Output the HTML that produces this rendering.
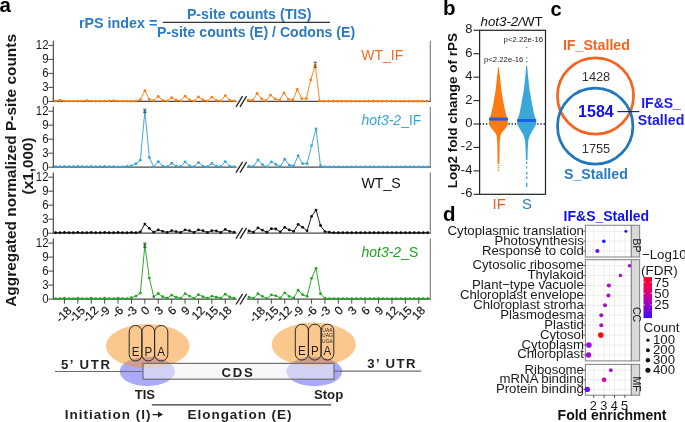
<!DOCTYPE html>
<html><head><meta charset="utf-8"><style>
html,body{margin:0;padding:0;background:#fff;}
body{width:685px;height:422px;overflow:hidden;}
svg{display:block;will-change:transform;font-family:"Liberation Sans", sans-serif;}
</style></head><body>
<svg width="685" height="422" viewBox="0 0 685 422">
<line x1="53.3" y1="40.80" x2="53.3" y2="101.40" stroke="#3c3c3c" stroke-width="1.1"/>
<line x1="430.3" y1="40.80" x2="430.3" y2="101.40" stroke="#7a7a7a" stroke-width="1.1"/>
<line x1="48.3" y1="101.40" x2="53.3" y2="101.40" stroke="#4a4a4a" stroke-width="1"/>
<text x="0" y="0" text-anchor="end" font-size="12" fill="#1a1a1a" transform="translate(48.5 104.80) scale(0.95 1)">0</text>
<line x1="48.3" y1="87.40" x2="53.3" y2="87.40" stroke="#4a4a4a" stroke-width="1"/>
<text x="0" y="0" text-anchor="end" font-size="12" fill="#1a1a1a" transform="translate(48.5 90.80) scale(0.95 1)">3</text>
<line x1="48.3" y1="73.40" x2="53.3" y2="73.40" stroke="#4a4a4a" stroke-width="1"/>
<text x="0" y="0" text-anchor="end" font-size="12" fill="#1a1a1a" transform="translate(48.5 76.80) scale(0.95 1)">6</text>
<line x1="48.3" y1="59.40" x2="53.3" y2="59.40" stroke="#4a4a4a" stroke-width="1"/>
<text x="0" y="0" text-anchor="end" font-size="12" fill="#1a1a1a" transform="translate(48.5 62.80) scale(0.95 1)">9</text>
<line x1="48.3" y1="45.40" x2="53.3" y2="45.40" stroke="#4a4a4a" stroke-width="1"/>
<text x="0" y="0" text-anchor="end" font-size="12" fill="#1a1a1a" transform="translate(48.5 48.80) scale(0.95 1)">12</text>
<line x1="52.8" y1="101.40" x2="236.7" y2="101.40" stroke="#4a4a4a" stroke-width="1.25"/>
<line x1="247" y1="101.40" x2="430.8" y2="101.40" stroke="#4a4a4a" stroke-width="1.25"/>
<line x1="236.00" y1="106.80" x2="242.60" y2="96.10" stroke="#2b2222" stroke-width="1.35"/>
<line x1="240.00" y1="106.80" x2="246.60" y2="96.10" stroke="#2b2222" stroke-width="1.35"/>
<polyline points="55.51,101.12 59.98,100.23 64.44,101.12 68.91,101.03 73.38,101.12 77.84,101.12 82.31,101.03 86.78,100.70 91.25,101.12 95.71,101.03 100.18,101.12 104.65,101.12 109.11,100.93 113.58,100.70 118.05,101.12 122.52,101.03 126.98,101.12 131.45,101.12 135.92,101.03 140.38,99.77 144.85,90.67 149.32,99.30 153.78,100.70 158.25,96.50 162.72,100.47 167.19,100.93 171.65,97.67 176.12,100.23 180.59,100.93 185.05,96.27 189.52,100.00 193.99,100.93 198.45,96.97 202.92,100.00 207.39,100.93 211.85,97.20 216.32,100.47 220.79,100.93 225.26,95.57 229.72,100.47 234.19,100.93" fill="none" stroke="#ff7f0e" stroke-width="0.95"/>
<circle cx="55.51" cy="101.12" r="1.4" fill="#ff7f0e"/>
<circle cx="59.98" cy="100.23" r="1.4" fill="#ff7f0e"/>
<circle cx="64.44" cy="101.12" r="1.4" fill="#ff7f0e"/>
<circle cx="68.91" cy="101.03" r="1.4" fill="#ff7f0e"/>
<circle cx="73.38" cy="101.12" r="1.4" fill="#ff7f0e"/>
<circle cx="77.84" cy="101.12" r="1.4" fill="#ff7f0e"/>
<circle cx="82.31" cy="101.03" r="1.4" fill="#ff7f0e"/>
<circle cx="86.78" cy="100.70" r="1.4" fill="#ff7f0e"/>
<circle cx="91.25" cy="101.12" r="1.4" fill="#ff7f0e"/>
<circle cx="95.71" cy="101.03" r="1.4" fill="#ff7f0e"/>
<circle cx="100.18" cy="101.12" r="1.4" fill="#ff7f0e"/>
<circle cx="104.65" cy="101.12" r="1.4" fill="#ff7f0e"/>
<circle cx="109.11" cy="100.93" r="1.4" fill="#ff7f0e"/>
<circle cx="113.58" cy="100.70" r="1.4" fill="#ff7f0e"/>
<circle cx="118.05" cy="101.12" r="1.4" fill="#ff7f0e"/>
<circle cx="122.52" cy="101.03" r="1.4" fill="#ff7f0e"/>
<circle cx="126.98" cy="101.12" r="1.4" fill="#ff7f0e"/>
<circle cx="131.45" cy="101.12" r="1.4" fill="#ff7f0e"/>
<circle cx="135.92" cy="101.03" r="1.4" fill="#ff7f0e"/>
<circle cx="140.38" cy="99.77" r="1.4" fill="#ff7f0e"/>
<circle cx="144.85" cy="90.67" r="1.4" fill="#ff7f0e"/>
<circle cx="149.32" cy="99.30" r="1.4" fill="#ff7f0e"/>
<circle cx="153.78" cy="100.70" r="1.4" fill="#ff7f0e"/>
<circle cx="158.25" cy="96.50" r="1.4" fill="#ff7f0e"/>
<circle cx="162.72" cy="100.47" r="1.4" fill="#ff7f0e"/>
<circle cx="167.19" cy="100.93" r="1.4" fill="#ff7f0e"/>
<circle cx="171.65" cy="97.67" r="1.4" fill="#ff7f0e"/>
<circle cx="176.12" cy="100.23" r="1.4" fill="#ff7f0e"/>
<circle cx="180.59" cy="100.93" r="1.4" fill="#ff7f0e"/>
<circle cx="185.05" cy="96.27" r="1.4" fill="#ff7f0e"/>
<circle cx="189.52" cy="100.00" r="1.4" fill="#ff7f0e"/>
<circle cx="193.99" cy="100.93" r="1.4" fill="#ff7f0e"/>
<circle cx="198.45" cy="96.97" r="1.4" fill="#ff7f0e"/>
<circle cx="202.92" cy="100.00" r="1.4" fill="#ff7f0e"/>
<circle cx="207.39" cy="100.93" r="1.4" fill="#ff7f0e"/>
<circle cx="211.85" cy="97.20" r="1.4" fill="#ff7f0e"/>
<circle cx="216.32" cy="100.47" r="1.4" fill="#ff7f0e"/>
<circle cx="220.79" cy="100.93" r="1.4" fill="#ff7f0e"/>
<circle cx="225.26" cy="95.57" r="1.4" fill="#ff7f0e"/>
<circle cx="229.72" cy="100.47" r="1.4" fill="#ff7f0e"/>
<circle cx="234.19" cy="100.93" r="1.4" fill="#ff7f0e"/>
<polyline points="248.21,100.23 252.68,100.23 257.14,93.47 261.61,98.83 266.08,100.70 270.55,95.10 275.01,98.83 279.48,100.23 283.95,93.00 288.41,99.30 292.88,100.00 297.35,89.50 301.81,98.60 306.28,98.60 310.75,79.93 315.22,65.23 319.68,100.93 324.15,101.17 328.62,101.17 333.08,101.17 337.55,101.17 342.02,101.17 346.48,101.17 350.95,101.17 355.42,101.17 359.88,101.17 364.35,101.17 368.82,101.17 373.29,101.17 377.75,101.17 382.22,101.17 386.69,101.17 391.15,101.17 395.62,101.17 400.09,101.17 404.56,101.17 409.02,101.17 413.49,101.17 417.96,101.17 422.42,101.17 426.89,101.17" fill="none" stroke="#ff7f0e" stroke-width="0.95"/>
<circle cx="248.21" cy="100.23" r="1.4" fill="#ff7f0e"/>
<circle cx="252.68" cy="100.23" r="1.4" fill="#ff7f0e"/>
<circle cx="257.14" cy="93.47" r="1.4" fill="#ff7f0e"/>
<circle cx="261.61" cy="98.83" r="1.4" fill="#ff7f0e"/>
<circle cx="266.08" cy="100.70" r="1.4" fill="#ff7f0e"/>
<circle cx="270.55" cy="95.10" r="1.4" fill="#ff7f0e"/>
<circle cx="275.01" cy="98.83" r="1.4" fill="#ff7f0e"/>
<circle cx="279.48" cy="100.23" r="1.4" fill="#ff7f0e"/>
<circle cx="283.95" cy="93.00" r="1.4" fill="#ff7f0e"/>
<circle cx="288.41" cy="99.30" r="1.4" fill="#ff7f0e"/>
<circle cx="292.88" cy="100.00" r="1.4" fill="#ff7f0e"/>
<circle cx="297.35" cy="89.50" r="1.4" fill="#ff7f0e"/>
<circle cx="301.81" cy="98.60" r="1.4" fill="#ff7f0e"/>
<circle cx="306.28" cy="98.60" r="1.4" fill="#ff7f0e"/>
<circle cx="310.75" cy="79.93" r="1.4" fill="#ff7f0e"/>
<circle cx="315.22" cy="65.23" r="1.4" fill="#ff7f0e"/>
<circle cx="319.68" cy="100.93" r="1.4" fill="#ff7f0e"/>
<circle cx="324.15" cy="101.17" r="1.4" fill="#ff7f0e"/>
<circle cx="328.62" cy="101.17" r="1.4" fill="#ff7f0e"/>
<circle cx="333.08" cy="101.17" r="1.4" fill="#ff7f0e"/>
<circle cx="337.55" cy="101.17" r="1.4" fill="#ff7f0e"/>
<circle cx="342.02" cy="101.17" r="1.4" fill="#ff7f0e"/>
<circle cx="346.48" cy="101.17" r="1.4" fill="#ff7f0e"/>
<circle cx="350.95" cy="101.17" r="1.4" fill="#ff7f0e"/>
<circle cx="355.42" cy="101.17" r="1.4" fill="#ff7f0e"/>
<circle cx="359.88" cy="101.17" r="1.4" fill="#ff7f0e"/>
<circle cx="364.35" cy="101.17" r="1.4" fill="#ff7f0e"/>
<circle cx="368.82" cy="101.17" r="1.4" fill="#ff7f0e"/>
<circle cx="373.29" cy="101.17" r="1.4" fill="#ff7f0e"/>
<circle cx="377.75" cy="101.17" r="1.4" fill="#ff7f0e"/>
<circle cx="382.22" cy="101.17" r="1.4" fill="#ff7f0e"/>
<circle cx="386.69" cy="101.17" r="1.4" fill="#ff7f0e"/>
<circle cx="391.15" cy="101.17" r="1.4" fill="#ff7f0e"/>
<circle cx="395.62" cy="101.17" r="1.4" fill="#ff7f0e"/>
<circle cx="400.09" cy="101.17" r="1.4" fill="#ff7f0e"/>
<circle cx="404.56" cy="101.17" r="1.4" fill="#ff7f0e"/>
<circle cx="409.02" cy="101.17" r="1.4" fill="#ff7f0e"/>
<circle cx="413.49" cy="101.17" r="1.4" fill="#ff7f0e"/>
<circle cx="417.96" cy="101.17" r="1.4" fill="#ff7f0e"/>
<circle cx="422.42" cy="101.17" r="1.4" fill="#ff7f0e"/>
<circle cx="426.89" cy="101.17" r="1.4" fill="#ff7f0e"/>
<line x1="315.22" y1="62.20" x2="315.22" y2="67.33" stroke="#444" stroke-width="0.9"/>
<line x1="313.52" y1="67.33" x2="316.92" y2="67.33" stroke="#444" stroke-width="0.9"/>
<line x1="313.52" y1="62.20" x2="316.92" y2="62.20" stroke="#444" stroke-width="0.9"/>
<line x1="53.3" y1="106.60" x2="53.3" y2="167.20" stroke="#3c3c3c" stroke-width="1.1"/>
<line x1="430.3" y1="106.60" x2="430.3" y2="167.20" stroke="#7a7a7a" stroke-width="1.1"/>
<line x1="48.3" y1="167.20" x2="53.3" y2="167.20" stroke="#4a4a4a" stroke-width="1"/>
<text x="0" y="0" text-anchor="end" font-size="12" fill="#1a1a1a" transform="translate(48.5 170.60) scale(0.95 1)">0</text>
<line x1="48.3" y1="153.20" x2="53.3" y2="153.20" stroke="#4a4a4a" stroke-width="1"/>
<text x="0" y="0" text-anchor="end" font-size="12" fill="#1a1a1a" transform="translate(48.5 156.60) scale(0.95 1)">3</text>
<line x1="48.3" y1="139.20" x2="53.3" y2="139.20" stroke="#4a4a4a" stroke-width="1"/>
<text x="0" y="0" text-anchor="end" font-size="12" fill="#1a1a1a" transform="translate(48.5 142.60) scale(0.95 1)">6</text>
<line x1="48.3" y1="125.20" x2="53.3" y2="125.20" stroke="#4a4a4a" stroke-width="1"/>
<text x="0" y="0" text-anchor="end" font-size="12" fill="#1a1a1a" transform="translate(48.5 128.60) scale(0.95 1)">9</text>
<line x1="48.3" y1="111.20" x2="53.3" y2="111.20" stroke="#4a4a4a" stroke-width="1"/>
<text x="0" y="0" text-anchor="end" font-size="12" fill="#1a1a1a" transform="translate(48.5 114.60) scale(0.95 1)">12</text>
<line x1="52.8" y1="167.20" x2="236.7" y2="167.20" stroke="#4a4a4a" stroke-width="1.25"/>
<line x1="247" y1="167.20" x2="430.8" y2="167.20" stroke="#4a4a4a" stroke-width="1.25"/>
<line x1="236.00" y1="172.60" x2="242.60" y2="161.90" stroke="#2b2222" stroke-width="1.35"/>
<line x1="240.00" y1="172.60" x2="246.60" y2="161.90" stroke="#2b2222" stroke-width="1.35"/>
<polyline points="55.51,166.73 59.98,166.73 64.44,166.50 68.91,166.73 73.38,166.73 77.84,166.50 82.31,166.73 86.78,166.73 91.25,166.50 95.71,166.73 100.18,166.73 104.65,166.50 109.11,166.73 113.58,166.73 118.05,166.97 122.52,166.97 126.98,166.50 131.45,165.80 135.92,163.70 140.38,160.20 144.85,111.20 149.32,157.40 153.78,166.73 158.25,161.60 162.72,166.03 167.19,166.73 171.65,163.23 176.12,166.03 180.59,166.50 185.05,161.83 189.52,165.80 193.99,166.73 198.45,162.53 202.92,166.03 207.39,166.73 211.85,163.47 216.32,166.03 220.79,166.50 225.26,161.60 229.72,166.03 234.19,166.73" fill="none" stroke="#3aa3d8" stroke-width="0.95"/>
<circle cx="55.51" cy="166.73" r="1.4" fill="#3aa3d8"/>
<circle cx="59.98" cy="166.73" r="1.4" fill="#3aa3d8"/>
<circle cx="64.44" cy="166.50" r="1.4" fill="#3aa3d8"/>
<circle cx="68.91" cy="166.73" r="1.4" fill="#3aa3d8"/>
<circle cx="73.38" cy="166.73" r="1.4" fill="#3aa3d8"/>
<circle cx="77.84" cy="166.50" r="1.4" fill="#3aa3d8"/>
<circle cx="82.31" cy="166.73" r="1.4" fill="#3aa3d8"/>
<circle cx="86.78" cy="166.73" r="1.4" fill="#3aa3d8"/>
<circle cx="91.25" cy="166.50" r="1.4" fill="#3aa3d8"/>
<circle cx="95.71" cy="166.73" r="1.4" fill="#3aa3d8"/>
<circle cx="100.18" cy="166.73" r="1.4" fill="#3aa3d8"/>
<circle cx="104.65" cy="166.50" r="1.4" fill="#3aa3d8"/>
<circle cx="109.11" cy="166.73" r="1.4" fill="#3aa3d8"/>
<circle cx="113.58" cy="166.73" r="1.4" fill="#3aa3d8"/>
<circle cx="118.05" cy="166.97" r="1.4" fill="#3aa3d8"/>
<circle cx="122.52" cy="166.97" r="1.4" fill="#3aa3d8"/>
<circle cx="126.98" cy="166.50" r="1.4" fill="#3aa3d8"/>
<circle cx="131.45" cy="165.80" r="1.4" fill="#3aa3d8"/>
<circle cx="135.92" cy="163.70" r="1.4" fill="#3aa3d8"/>
<circle cx="140.38" cy="160.20" r="1.4" fill="#3aa3d8"/>
<circle cx="144.85" cy="111.20" r="1.4" fill="#3aa3d8"/>
<circle cx="149.32" cy="157.40" r="1.4" fill="#3aa3d8"/>
<circle cx="153.78" cy="166.73" r="1.4" fill="#3aa3d8"/>
<circle cx="158.25" cy="161.60" r="1.4" fill="#3aa3d8"/>
<circle cx="162.72" cy="166.03" r="1.4" fill="#3aa3d8"/>
<circle cx="167.19" cy="166.73" r="1.4" fill="#3aa3d8"/>
<circle cx="171.65" cy="163.23" r="1.4" fill="#3aa3d8"/>
<circle cx="176.12" cy="166.03" r="1.4" fill="#3aa3d8"/>
<circle cx="180.59" cy="166.50" r="1.4" fill="#3aa3d8"/>
<circle cx="185.05" cy="161.83" r="1.4" fill="#3aa3d8"/>
<circle cx="189.52" cy="165.80" r="1.4" fill="#3aa3d8"/>
<circle cx="193.99" cy="166.73" r="1.4" fill="#3aa3d8"/>
<circle cx="198.45" cy="162.53" r="1.4" fill="#3aa3d8"/>
<circle cx="202.92" cy="166.03" r="1.4" fill="#3aa3d8"/>
<circle cx="207.39" cy="166.73" r="1.4" fill="#3aa3d8"/>
<circle cx="211.85" cy="163.47" r="1.4" fill="#3aa3d8"/>
<circle cx="216.32" cy="166.03" r="1.4" fill="#3aa3d8"/>
<circle cx="220.79" cy="166.50" r="1.4" fill="#3aa3d8"/>
<circle cx="225.26" cy="161.60" r="1.4" fill="#3aa3d8"/>
<circle cx="229.72" cy="166.03" r="1.4" fill="#3aa3d8"/>
<circle cx="234.19" cy="166.73" r="1.4" fill="#3aa3d8"/>
<polyline points="249.01,166.27 253.48,166.50 257.94,159.97 262.41,164.63 266.88,166.97 271.35,161.83 275.81,164.40 280.28,166.50 284.75,159.27 289.21,165.10 293.68,165.80 298.15,155.77 302.61,163.70 307.08,163.70 311.55,145.73 316.02,128.93 320.48,165.57 324.95,166.97 329.42,166.97 333.88,166.97 338.35,166.97 342.82,166.97 347.28,166.97 351.75,166.97 356.22,166.97 360.69,166.97 365.15,166.97 369.62,166.97 374.09,166.97 378.55,166.97 383.02,166.97 387.49,166.97 391.95,166.97 396.42,166.97 400.89,166.97 405.36,166.97 409.82,166.97 414.29,166.97 418.76,166.97 423.22,166.97 427.69,166.97" fill="none" stroke="#3aa3d8" stroke-width="0.95"/>
<circle cx="249.01" cy="166.27" r="1.4" fill="#3aa3d8"/>
<circle cx="253.48" cy="166.50" r="1.4" fill="#3aa3d8"/>
<circle cx="257.94" cy="159.97" r="1.4" fill="#3aa3d8"/>
<circle cx="262.41" cy="164.63" r="1.4" fill="#3aa3d8"/>
<circle cx="266.88" cy="166.97" r="1.4" fill="#3aa3d8"/>
<circle cx="271.35" cy="161.83" r="1.4" fill="#3aa3d8"/>
<circle cx="275.81" cy="164.40" r="1.4" fill="#3aa3d8"/>
<circle cx="280.28" cy="166.50" r="1.4" fill="#3aa3d8"/>
<circle cx="284.75" cy="159.27" r="1.4" fill="#3aa3d8"/>
<circle cx="289.21" cy="165.10" r="1.4" fill="#3aa3d8"/>
<circle cx="293.68" cy="165.80" r="1.4" fill="#3aa3d8"/>
<circle cx="298.15" cy="155.77" r="1.4" fill="#3aa3d8"/>
<circle cx="302.61" cy="163.70" r="1.4" fill="#3aa3d8"/>
<circle cx="307.08" cy="163.70" r="1.4" fill="#3aa3d8"/>
<circle cx="311.55" cy="145.73" r="1.4" fill="#3aa3d8"/>
<circle cx="316.02" cy="128.93" r="1.4" fill="#3aa3d8"/>
<circle cx="320.48" cy="165.57" r="1.4" fill="#3aa3d8"/>
<circle cx="324.95" cy="166.97" r="1.4" fill="#3aa3d8"/>
<circle cx="329.42" cy="166.97" r="1.4" fill="#3aa3d8"/>
<circle cx="333.88" cy="166.97" r="1.4" fill="#3aa3d8"/>
<circle cx="338.35" cy="166.97" r="1.4" fill="#3aa3d8"/>
<circle cx="342.82" cy="166.97" r="1.4" fill="#3aa3d8"/>
<circle cx="347.28" cy="166.97" r="1.4" fill="#3aa3d8"/>
<circle cx="351.75" cy="166.97" r="1.4" fill="#3aa3d8"/>
<circle cx="356.22" cy="166.97" r="1.4" fill="#3aa3d8"/>
<circle cx="360.69" cy="166.97" r="1.4" fill="#3aa3d8"/>
<circle cx="365.15" cy="166.97" r="1.4" fill="#3aa3d8"/>
<circle cx="369.62" cy="166.97" r="1.4" fill="#3aa3d8"/>
<circle cx="374.09" cy="166.97" r="1.4" fill="#3aa3d8"/>
<circle cx="378.55" cy="166.97" r="1.4" fill="#3aa3d8"/>
<circle cx="383.02" cy="166.97" r="1.4" fill="#3aa3d8"/>
<circle cx="387.49" cy="166.97" r="1.4" fill="#3aa3d8"/>
<circle cx="391.95" cy="166.97" r="1.4" fill="#3aa3d8"/>
<circle cx="396.42" cy="166.97" r="1.4" fill="#3aa3d8"/>
<circle cx="400.89" cy="166.97" r="1.4" fill="#3aa3d8"/>
<circle cx="405.36" cy="166.97" r="1.4" fill="#3aa3d8"/>
<circle cx="409.82" cy="166.97" r="1.4" fill="#3aa3d8"/>
<circle cx="414.29" cy="166.97" r="1.4" fill="#3aa3d8"/>
<circle cx="418.76" cy="166.97" r="1.4" fill="#3aa3d8"/>
<circle cx="423.22" cy="166.97" r="1.4" fill="#3aa3d8"/>
<circle cx="427.69" cy="166.97" r="1.4" fill="#3aa3d8"/>
<line x1="144.85" y1="109.19" x2="144.85" y2="112.69" stroke="#444" stroke-width="0.9"/>
<line x1="143.15" y1="112.69" x2="146.55" y2="112.69" stroke="#444" stroke-width="0.9"/>
<line x1="143.15" y1="109.19" x2="146.55" y2="109.19" stroke="#444" stroke-width="0.9"/>
<line x1="53.3" y1="172.60" x2="53.3" y2="233.20" stroke="#3c3c3c" stroke-width="1.1"/>
<line x1="430.3" y1="172.60" x2="430.3" y2="233.20" stroke="#7a7a7a" stroke-width="1.1"/>
<line x1="48.3" y1="233.20" x2="53.3" y2="233.20" stroke="#4a4a4a" stroke-width="1"/>
<text x="0" y="0" text-anchor="end" font-size="12" fill="#1a1a1a" transform="translate(48.5 236.60) scale(0.95 1)">0</text>
<line x1="48.3" y1="219.20" x2="53.3" y2="219.20" stroke="#4a4a4a" stroke-width="1"/>
<text x="0" y="0" text-anchor="end" font-size="12" fill="#1a1a1a" transform="translate(48.5 222.60) scale(0.95 1)">3</text>
<line x1="48.3" y1="205.20" x2="53.3" y2="205.20" stroke="#4a4a4a" stroke-width="1"/>
<text x="0" y="0" text-anchor="end" font-size="12" fill="#1a1a1a" transform="translate(48.5 208.60) scale(0.95 1)">6</text>
<line x1="48.3" y1="191.20" x2="53.3" y2="191.20" stroke="#4a4a4a" stroke-width="1"/>
<text x="0" y="0" text-anchor="end" font-size="12" fill="#1a1a1a" transform="translate(48.5 194.60) scale(0.95 1)">9</text>
<line x1="48.3" y1="177.20" x2="53.3" y2="177.20" stroke="#4a4a4a" stroke-width="1"/>
<text x="0" y="0" text-anchor="end" font-size="12" fill="#1a1a1a" transform="translate(48.5 180.60) scale(0.95 1)">12</text>
<line x1="52.8" y1="233.20" x2="236.7" y2="233.20" stroke="#4a4a4a" stroke-width="1.25"/>
<line x1="247" y1="233.20" x2="430.8" y2="233.20" stroke="#4a4a4a" stroke-width="1.25"/>
<line x1="236.00" y1="238.60" x2="242.60" y2="227.90" stroke="#2b2222" stroke-width="1.35"/>
<line x1="240.00" y1="238.60" x2="246.60" y2="227.90" stroke="#2b2222" stroke-width="1.35"/>
<polyline points="55.51,232.73 59.98,232.73 64.44,232.50 68.91,232.73 73.38,232.73 77.84,232.50 82.31,232.73 86.78,232.73 91.25,232.50 95.71,232.73 100.18,232.73 104.65,232.50 109.11,232.73 113.58,232.73 118.05,232.50 122.52,232.73 126.98,232.73 131.45,232.50 135.92,232.73 140.38,231.80 144.85,224.10 149.32,228.30 153.78,232.27 158.25,229.93 162.72,231.33 167.19,232.50 171.65,230.63 176.12,231.57 180.59,232.50 185.05,229.93 189.52,230.63 193.99,232.50 198.45,229.93 202.92,230.63 207.39,232.50 211.85,230.63 216.32,230.87 220.79,232.50 225.26,229.47 229.72,231.33 234.19,232.27" fill="none" stroke="#111111" stroke-width="0.95"/>
<circle cx="55.51" cy="232.73" r="1.4" fill="#111111"/>
<circle cx="59.98" cy="232.73" r="1.4" fill="#111111"/>
<circle cx="64.44" cy="232.50" r="1.4" fill="#111111"/>
<circle cx="68.91" cy="232.73" r="1.4" fill="#111111"/>
<circle cx="73.38" cy="232.73" r="1.4" fill="#111111"/>
<circle cx="77.84" cy="232.50" r="1.4" fill="#111111"/>
<circle cx="82.31" cy="232.73" r="1.4" fill="#111111"/>
<circle cx="86.78" cy="232.73" r="1.4" fill="#111111"/>
<circle cx="91.25" cy="232.50" r="1.4" fill="#111111"/>
<circle cx="95.71" cy="232.73" r="1.4" fill="#111111"/>
<circle cx="100.18" cy="232.73" r="1.4" fill="#111111"/>
<circle cx="104.65" cy="232.50" r="1.4" fill="#111111"/>
<circle cx="109.11" cy="232.73" r="1.4" fill="#111111"/>
<circle cx="113.58" cy="232.73" r="1.4" fill="#111111"/>
<circle cx="118.05" cy="232.50" r="1.4" fill="#111111"/>
<circle cx="122.52" cy="232.73" r="1.4" fill="#111111"/>
<circle cx="126.98" cy="232.73" r="1.4" fill="#111111"/>
<circle cx="131.45" cy="232.50" r="1.4" fill="#111111"/>
<circle cx="135.92" cy="232.73" r="1.4" fill="#111111"/>
<circle cx="140.38" cy="231.80" r="1.4" fill="#111111"/>
<circle cx="144.85" cy="224.10" r="1.4" fill="#111111"/>
<circle cx="149.32" cy="228.30" r="1.4" fill="#111111"/>
<circle cx="153.78" cy="232.27" r="1.4" fill="#111111"/>
<circle cx="158.25" cy="229.93" r="1.4" fill="#111111"/>
<circle cx="162.72" cy="231.33" r="1.4" fill="#111111"/>
<circle cx="167.19" cy="232.50" r="1.4" fill="#111111"/>
<circle cx="171.65" cy="230.63" r="1.4" fill="#111111"/>
<circle cx="176.12" cy="231.57" r="1.4" fill="#111111"/>
<circle cx="180.59" cy="232.50" r="1.4" fill="#111111"/>
<circle cx="185.05" cy="229.93" r="1.4" fill="#111111"/>
<circle cx="189.52" cy="230.63" r="1.4" fill="#111111"/>
<circle cx="193.99" cy="232.50" r="1.4" fill="#111111"/>
<circle cx="198.45" cy="229.93" r="1.4" fill="#111111"/>
<circle cx="202.92" cy="230.63" r="1.4" fill="#111111"/>
<circle cx="207.39" cy="232.50" r="1.4" fill="#111111"/>
<circle cx="211.85" cy="230.63" r="1.4" fill="#111111"/>
<circle cx="216.32" cy="230.87" r="1.4" fill="#111111"/>
<circle cx="220.79" cy="232.50" r="1.4" fill="#111111"/>
<circle cx="225.26" cy="229.47" r="1.4" fill="#111111"/>
<circle cx="229.72" cy="231.33" r="1.4" fill="#111111"/>
<circle cx="234.19" cy="232.27" r="1.4" fill="#111111"/>
<polyline points="249.01,230.87 253.48,232.27 257.94,227.83 262.41,230.17 266.88,232.27 271.35,228.77 275.81,229.00 280.28,231.80 284.75,227.37 289.21,229.93 293.68,231.33 298.15,224.33 302.61,227.37 307.08,230.87 311.55,216.40 316.02,210.10 320.48,225.50 324.95,231.57 329.42,232.27 333.88,232.73 338.35,232.73 342.82,232.73 347.28,232.73 351.75,232.73 356.22,232.73 360.69,232.73 365.15,232.73 369.62,232.73 374.09,232.73 378.55,232.73 383.02,232.73 387.49,232.73 391.95,232.73 396.42,232.73 400.89,232.73 405.36,232.73 409.82,232.73 414.29,232.73 418.76,232.73 423.22,232.73 427.69,232.73" fill="none" stroke="#111111" stroke-width="0.95"/>
<circle cx="249.01" cy="230.87" r="1.4" fill="#111111"/>
<circle cx="253.48" cy="232.27" r="1.4" fill="#111111"/>
<circle cx="257.94" cy="227.83" r="1.4" fill="#111111"/>
<circle cx="262.41" cy="230.17" r="1.4" fill="#111111"/>
<circle cx="266.88" cy="232.27" r="1.4" fill="#111111"/>
<circle cx="271.35" cy="228.77" r="1.4" fill="#111111"/>
<circle cx="275.81" cy="229.00" r="1.4" fill="#111111"/>
<circle cx="280.28" cy="231.80" r="1.4" fill="#111111"/>
<circle cx="284.75" cy="227.37" r="1.4" fill="#111111"/>
<circle cx="289.21" cy="229.93" r="1.4" fill="#111111"/>
<circle cx="293.68" cy="231.33" r="1.4" fill="#111111"/>
<circle cx="298.15" cy="224.33" r="1.4" fill="#111111"/>
<circle cx="302.61" cy="227.37" r="1.4" fill="#111111"/>
<circle cx="307.08" cy="230.87" r="1.4" fill="#111111"/>
<circle cx="311.55" cy="216.40" r="1.4" fill="#111111"/>
<circle cx="316.02" cy="210.10" r="1.4" fill="#111111"/>
<circle cx="320.48" cy="225.50" r="1.4" fill="#111111"/>
<circle cx="324.95" cy="231.57" r="1.4" fill="#111111"/>
<circle cx="329.42" cy="232.27" r="1.4" fill="#111111"/>
<circle cx="333.88" cy="232.73" r="1.4" fill="#111111"/>
<circle cx="338.35" cy="232.73" r="1.4" fill="#111111"/>
<circle cx="342.82" cy="232.73" r="1.4" fill="#111111"/>
<circle cx="347.28" cy="232.73" r="1.4" fill="#111111"/>
<circle cx="351.75" cy="232.73" r="1.4" fill="#111111"/>
<circle cx="356.22" cy="232.73" r="1.4" fill="#111111"/>
<circle cx="360.69" cy="232.73" r="1.4" fill="#111111"/>
<circle cx="365.15" cy="232.73" r="1.4" fill="#111111"/>
<circle cx="369.62" cy="232.73" r="1.4" fill="#111111"/>
<circle cx="374.09" cy="232.73" r="1.4" fill="#111111"/>
<circle cx="378.55" cy="232.73" r="1.4" fill="#111111"/>
<circle cx="383.02" cy="232.73" r="1.4" fill="#111111"/>
<circle cx="387.49" cy="232.73" r="1.4" fill="#111111"/>
<circle cx="391.95" cy="232.73" r="1.4" fill="#111111"/>
<circle cx="396.42" cy="232.73" r="1.4" fill="#111111"/>
<circle cx="400.89" cy="232.73" r="1.4" fill="#111111"/>
<circle cx="405.36" cy="232.73" r="1.4" fill="#111111"/>
<circle cx="409.82" cy="232.73" r="1.4" fill="#111111"/>
<circle cx="414.29" cy="232.73" r="1.4" fill="#111111"/>
<circle cx="418.76" cy="232.73" r="1.4" fill="#111111"/>
<circle cx="423.22" cy="232.73" r="1.4" fill="#111111"/>
<circle cx="427.69" cy="232.73" r="1.4" fill="#111111"/>
<line x1="53.3" y1="238.50" x2="53.3" y2="299.10" stroke="#3c3c3c" stroke-width="1.1"/>
<line x1="430.3" y1="238.50" x2="430.3" y2="299.10" stroke="#7a7a7a" stroke-width="1.1"/>
<line x1="48.3" y1="299.10" x2="53.3" y2="299.10" stroke="#4a4a4a" stroke-width="1"/>
<text x="0" y="0" text-anchor="end" font-size="12" fill="#1a1a1a" transform="translate(48.5 302.50) scale(0.95 1)">0</text>
<line x1="48.3" y1="285.10" x2="53.3" y2="285.10" stroke="#4a4a4a" stroke-width="1"/>
<text x="0" y="0" text-anchor="end" font-size="12" fill="#1a1a1a" transform="translate(48.5 288.50) scale(0.95 1)">3</text>
<line x1="48.3" y1="271.10" x2="53.3" y2="271.10" stroke="#4a4a4a" stroke-width="1"/>
<text x="0" y="0" text-anchor="end" font-size="12" fill="#1a1a1a" transform="translate(48.5 274.50) scale(0.95 1)">6</text>
<line x1="48.3" y1="257.10" x2="53.3" y2="257.10" stroke="#4a4a4a" stroke-width="1"/>
<text x="0" y="0" text-anchor="end" font-size="12" fill="#1a1a1a" transform="translate(48.5 260.50) scale(0.95 1)">9</text>
<line x1="48.3" y1="243.10" x2="53.3" y2="243.10" stroke="#4a4a4a" stroke-width="1"/>
<text x="0" y="0" text-anchor="end" font-size="12" fill="#1a1a1a" transform="translate(48.5 246.50) scale(0.95 1)">12</text>
<line x1="52.8" y1="299.10" x2="236.7" y2="299.10" stroke="#4a4a4a" stroke-width="1.25"/>
<line x1="247" y1="299.10" x2="430.8" y2="299.10" stroke="#4a4a4a" stroke-width="1.25"/>
<line x1="236.00" y1="304.50" x2="242.60" y2="293.80" stroke="#2b2222" stroke-width="1.35"/>
<line x1="240.00" y1="304.50" x2="246.60" y2="293.80" stroke="#2b2222" stroke-width="1.35"/>
<polyline points="55.51,298.63 59.98,298.63 64.44,298.17 68.91,298.63 73.38,298.63 77.84,298.17 82.31,298.63 86.78,298.63 91.25,298.17 95.71,298.63 100.18,298.63 104.65,298.17 109.11,298.63 113.58,298.63 118.05,298.17 122.52,298.63 126.98,298.63 131.45,297.70 135.92,296.07 140.38,293.03 144.85,245.20 149.32,278.10 153.78,296.77 158.25,293.50 162.72,296.77 167.19,298.17 171.65,295.13 176.12,297.23 180.59,298.40 185.05,293.73 189.52,296.07 193.99,298.40 198.45,294.67 202.92,296.77 207.39,298.40 211.85,296.07 216.32,297.23 220.79,298.17 225.26,294.20 229.72,297.00 234.19,298.17" fill="none" stroke="#22a822" stroke-width="0.95"/>
<circle cx="55.51" cy="298.63" r="1.4" fill="#22a822"/>
<circle cx="59.98" cy="298.63" r="1.4" fill="#22a822"/>
<circle cx="64.44" cy="298.17" r="1.4" fill="#22a822"/>
<circle cx="68.91" cy="298.63" r="1.4" fill="#22a822"/>
<circle cx="73.38" cy="298.63" r="1.4" fill="#22a822"/>
<circle cx="77.84" cy="298.17" r="1.4" fill="#22a822"/>
<circle cx="82.31" cy="298.63" r="1.4" fill="#22a822"/>
<circle cx="86.78" cy="298.63" r="1.4" fill="#22a822"/>
<circle cx="91.25" cy="298.17" r="1.4" fill="#22a822"/>
<circle cx="95.71" cy="298.63" r="1.4" fill="#22a822"/>
<circle cx="100.18" cy="298.63" r="1.4" fill="#22a822"/>
<circle cx="104.65" cy="298.17" r="1.4" fill="#22a822"/>
<circle cx="109.11" cy="298.63" r="1.4" fill="#22a822"/>
<circle cx="113.58" cy="298.63" r="1.4" fill="#22a822"/>
<circle cx="118.05" cy="298.17" r="1.4" fill="#22a822"/>
<circle cx="122.52" cy="298.63" r="1.4" fill="#22a822"/>
<circle cx="126.98" cy="298.63" r="1.4" fill="#22a822"/>
<circle cx="131.45" cy="297.70" r="1.4" fill="#22a822"/>
<circle cx="135.92" cy="296.07" r="1.4" fill="#22a822"/>
<circle cx="140.38" cy="293.03" r="1.4" fill="#22a822"/>
<circle cx="144.85" cy="245.20" r="1.4" fill="#22a822"/>
<circle cx="149.32" cy="278.10" r="1.4" fill="#22a822"/>
<circle cx="153.78" cy="296.77" r="1.4" fill="#22a822"/>
<circle cx="158.25" cy="293.50" r="1.4" fill="#22a822"/>
<circle cx="162.72" cy="296.77" r="1.4" fill="#22a822"/>
<circle cx="167.19" cy="298.17" r="1.4" fill="#22a822"/>
<circle cx="171.65" cy="295.13" r="1.4" fill="#22a822"/>
<circle cx="176.12" cy="297.23" r="1.4" fill="#22a822"/>
<circle cx="180.59" cy="298.40" r="1.4" fill="#22a822"/>
<circle cx="185.05" cy="293.73" r="1.4" fill="#22a822"/>
<circle cx="189.52" cy="296.07" r="1.4" fill="#22a822"/>
<circle cx="193.99" cy="298.40" r="1.4" fill="#22a822"/>
<circle cx="198.45" cy="294.67" r="1.4" fill="#22a822"/>
<circle cx="202.92" cy="296.77" r="1.4" fill="#22a822"/>
<circle cx="207.39" cy="298.40" r="1.4" fill="#22a822"/>
<circle cx="211.85" cy="296.07" r="1.4" fill="#22a822"/>
<circle cx="216.32" cy="297.23" r="1.4" fill="#22a822"/>
<circle cx="220.79" cy="298.17" r="1.4" fill="#22a822"/>
<circle cx="225.26" cy="294.20" r="1.4" fill="#22a822"/>
<circle cx="229.72" cy="297.00" r="1.4" fill="#22a822"/>
<circle cx="234.19" cy="298.17" r="1.4" fill="#22a822"/>
<polyline points="249.01,297.23 253.48,298.40 257.94,293.73 262.41,296.30 266.88,298.63 271.35,294.90 275.81,295.83 280.28,297.93 284.75,292.80 289.21,296.30 293.68,297.93 298.15,290.23 302.61,294.67 307.08,296.30 311.55,278.33 316.02,268.30 320.48,293.73 324.95,298.17 329.42,298.63 333.88,298.63 338.35,298.63 342.82,298.63 347.28,298.63 351.75,298.63 356.22,298.63 360.69,298.63 365.15,298.63 369.62,298.63 374.09,298.63 378.55,298.63 383.02,298.63 387.49,298.63 391.95,298.63 396.42,298.63 400.89,298.63 405.36,298.63 409.82,298.63 414.29,298.63 418.76,298.63 423.22,298.63 427.69,298.63" fill="none" stroke="#22a822" stroke-width="0.95"/>
<circle cx="249.01" cy="297.23" r="1.4" fill="#22a822"/>
<circle cx="253.48" cy="298.40" r="1.4" fill="#22a822"/>
<circle cx="257.94" cy="293.73" r="1.4" fill="#22a822"/>
<circle cx="262.41" cy="296.30" r="1.4" fill="#22a822"/>
<circle cx="266.88" cy="298.63" r="1.4" fill="#22a822"/>
<circle cx="271.35" cy="294.90" r="1.4" fill="#22a822"/>
<circle cx="275.81" cy="295.83" r="1.4" fill="#22a822"/>
<circle cx="280.28" cy="297.93" r="1.4" fill="#22a822"/>
<circle cx="284.75" cy="292.80" r="1.4" fill="#22a822"/>
<circle cx="289.21" cy="296.30" r="1.4" fill="#22a822"/>
<circle cx="293.68" cy="297.93" r="1.4" fill="#22a822"/>
<circle cx="298.15" cy="290.23" r="1.4" fill="#22a822"/>
<circle cx="302.61" cy="294.67" r="1.4" fill="#22a822"/>
<circle cx="307.08" cy="296.30" r="1.4" fill="#22a822"/>
<circle cx="311.55" cy="278.33" r="1.4" fill="#22a822"/>
<circle cx="316.02" cy="268.30" r="1.4" fill="#22a822"/>
<circle cx="320.48" cy="293.73" r="1.4" fill="#22a822"/>
<circle cx="324.95" cy="298.17" r="1.4" fill="#22a822"/>
<circle cx="329.42" cy="298.63" r="1.4" fill="#22a822"/>
<circle cx="333.88" cy="298.63" r="1.4" fill="#22a822"/>
<circle cx="338.35" cy="298.63" r="1.4" fill="#22a822"/>
<circle cx="342.82" cy="298.63" r="1.4" fill="#22a822"/>
<circle cx="347.28" cy="298.63" r="1.4" fill="#22a822"/>
<circle cx="351.75" cy="298.63" r="1.4" fill="#22a822"/>
<circle cx="356.22" cy="298.63" r="1.4" fill="#22a822"/>
<circle cx="360.69" cy="298.63" r="1.4" fill="#22a822"/>
<circle cx="365.15" cy="298.63" r="1.4" fill="#22a822"/>
<circle cx="369.62" cy="298.63" r="1.4" fill="#22a822"/>
<circle cx="374.09" cy="298.63" r="1.4" fill="#22a822"/>
<circle cx="378.55" cy="298.63" r="1.4" fill="#22a822"/>
<circle cx="383.02" cy="298.63" r="1.4" fill="#22a822"/>
<circle cx="387.49" cy="298.63" r="1.4" fill="#22a822"/>
<circle cx="391.95" cy="298.63" r="1.4" fill="#22a822"/>
<circle cx="396.42" cy="298.63" r="1.4" fill="#22a822"/>
<circle cx="400.89" cy="298.63" r="1.4" fill="#22a822"/>
<circle cx="405.36" cy="298.63" r="1.4" fill="#22a822"/>
<circle cx="409.82" cy="298.63" r="1.4" fill="#22a822"/>
<circle cx="414.29" cy="298.63" r="1.4" fill="#22a822"/>
<circle cx="418.76" cy="298.63" r="1.4" fill="#22a822"/>
<circle cx="423.22" cy="298.63" r="1.4" fill="#22a822"/>
<circle cx="427.69" cy="298.63" r="1.4" fill="#22a822"/>
<line x1="144.85" y1="243.10" x2="144.85" y2="247.39" stroke="#444" stroke-width="0.9"/>
<line x1="143.15" y1="247.39" x2="146.55" y2="247.39" stroke="#444" stroke-width="0.9"/>
<line x1="143.15" y1="243.10" x2="146.55" y2="243.10" stroke="#444" stroke-width="0.9"/>
<text x="0" y="0" font-size="15" fill="#f26a21" transform="translate(361.2 59.7) scale(0.935 1)">WT_IF</text>
<text x="0" y="0" font-size="15" fill="#3aa3d8" transform="translate(361.4 124.7) scale(0.935 1)"><tspan font-style="italic">hot3-2</tspan>_IF</text>
<text x="0" y="0" font-size="15" fill="#111" transform="translate(361.4 187.9) scale(0.945 1)">WT_S</text>
<text x="0" y="0" font-size="15" fill="#22a022" transform="translate(361.4 256.9) scale(0.935 1)"><tspan font-style="italic">hot3-2</tspan>_S</text>
<line x1="64.44" y1="299.10" x2="64.44" y2="303.70" stroke="#4a4a4a" stroke-width="1"/>
<text x="72.45" y="311.22" text-anchor="end" font-size="11.8" fill="#111" stroke="#111" stroke-width="0.18" transform="rotate(-45 72.45 311.22)">-18</text>
<line x1="77.84" y1="299.10" x2="77.84" y2="303.70" stroke="#4a4a4a" stroke-width="1"/>
<text x="85.85" y="311.22" text-anchor="end" font-size="11.8" fill="#111" stroke="#111" stroke-width="0.18" transform="rotate(-45 85.85 311.22)">-15</text>
<line x1="91.25" y1="299.10" x2="91.25" y2="303.70" stroke="#4a4a4a" stroke-width="1"/>
<text x="99.25" y="311.22" text-anchor="end" font-size="11.8" fill="#111" stroke="#111" stroke-width="0.18" transform="rotate(-45 99.25 311.22)">-12</text>
<line x1="104.65" y1="299.10" x2="104.65" y2="303.70" stroke="#4a4a4a" stroke-width="1"/>
<text x="110.75" y="311.22" text-anchor="end" font-size="11.8" fill="#111" stroke="#111" stroke-width="0.18" transform="rotate(-45 110.75 311.22)">-9</text>
<line x1="118.05" y1="299.10" x2="118.05" y2="303.70" stroke="#4a4a4a" stroke-width="1"/>
<text x="124.15" y="311.22" text-anchor="end" font-size="11.8" fill="#111" stroke="#111" stroke-width="0.18" transform="rotate(-45 124.15 311.22)">-6</text>
<line x1="131.45" y1="299.10" x2="131.45" y2="303.70" stroke="#4a4a4a" stroke-width="1"/>
<text x="137.55" y="311.22" text-anchor="end" font-size="11.8" fill="#111" stroke="#111" stroke-width="0.18" transform="rotate(-45 137.55 311.22)">-3</text>
<line x1="144.85" y1="299.10" x2="144.85" y2="303.70" stroke="#4a4a4a" stroke-width="1"/>
<text x="150.46" y="311.22" text-anchor="end" font-size="11.8" fill="#111" stroke="#111" stroke-width="0.18" transform="rotate(-45 150.46 311.22)">0</text>
<line x1="158.25" y1="299.10" x2="158.25" y2="303.70" stroke="#4a4a4a" stroke-width="1"/>
<text x="163.86" y="311.22" text-anchor="end" font-size="11.8" fill="#111" stroke="#111" stroke-width="0.18" transform="rotate(-45 163.86 311.22)">3</text>
<line x1="171.65" y1="299.10" x2="171.65" y2="303.70" stroke="#4a4a4a" stroke-width="1"/>
<text x="177.26" y="311.22" text-anchor="end" font-size="11.8" fill="#111" stroke="#111" stroke-width="0.18" transform="rotate(-45 177.26 311.22)">6</text>
<line x1="185.05" y1="299.10" x2="185.05" y2="303.70" stroke="#4a4a4a" stroke-width="1"/>
<text x="190.66" y="311.22" text-anchor="end" font-size="11.8" fill="#111" stroke="#111" stroke-width="0.18" transform="rotate(-45 190.66 311.22)">9</text>
<line x1="198.45" y1="299.10" x2="198.45" y2="303.70" stroke="#4a4a4a" stroke-width="1"/>
<text x="205.66" y="311.22" text-anchor="end" font-size="11.8" fill="#111" stroke="#111" stroke-width="0.18" transform="rotate(-45 205.66 311.22)">12</text>
<line x1="211.85" y1="299.10" x2="211.85" y2="303.70" stroke="#4a4a4a" stroke-width="1"/>
<text x="219.06" y="311.22" text-anchor="end" font-size="11.8" fill="#111" stroke="#111" stroke-width="0.18" transform="rotate(-45 219.06 311.22)">15</text>
<line x1="225.26" y1="299.10" x2="225.26" y2="303.70" stroke="#4a4a4a" stroke-width="1"/>
<text x="232.46" y="311.22" text-anchor="end" font-size="11.8" fill="#111" stroke="#111" stroke-width="0.18" transform="rotate(-45 232.46 311.22)">18</text>
<line x1="257.94" y1="299.10" x2="257.94" y2="303.70" stroke="#4a4a4a" stroke-width="1"/>
<text x="265.95" y="311.22" text-anchor="end" font-size="11.8" fill="#111" stroke="#111" stroke-width="0.18" transform="rotate(-45 265.95 311.22)">-18</text>
<line x1="271.35" y1="299.10" x2="271.35" y2="303.70" stroke="#4a4a4a" stroke-width="1"/>
<text x="279.35" y="311.22" text-anchor="end" font-size="11.8" fill="#111" stroke="#111" stroke-width="0.18" transform="rotate(-45 279.35 311.22)">-15</text>
<line x1="284.75" y1="299.10" x2="284.75" y2="303.70" stroke="#4a4a4a" stroke-width="1"/>
<text x="292.75" y="311.22" text-anchor="end" font-size="11.8" fill="#111" stroke="#111" stroke-width="0.18" transform="rotate(-45 292.75 311.22)">-12</text>
<line x1="298.15" y1="299.10" x2="298.15" y2="303.70" stroke="#4a4a4a" stroke-width="1"/>
<text x="304.25" y="311.22" text-anchor="end" font-size="11.8" fill="#111" stroke="#111" stroke-width="0.18" transform="rotate(-45 304.25 311.22)">-9</text>
<line x1="311.55" y1="299.10" x2="311.55" y2="303.70" stroke="#4a4a4a" stroke-width="1"/>
<text x="317.65" y="311.22" text-anchor="end" font-size="11.8" fill="#111" stroke="#111" stroke-width="0.18" transform="rotate(-45 317.65 311.22)">-6</text>
<line x1="324.95" y1="299.10" x2="324.95" y2="303.70" stroke="#4a4a4a" stroke-width="1"/>
<text x="331.05" y="311.22" text-anchor="end" font-size="11.8" fill="#111" stroke="#111" stroke-width="0.18" transform="rotate(-45 331.05 311.22)">-3</text>
<line x1="338.35" y1="299.10" x2="338.35" y2="303.70" stroke="#4a4a4a" stroke-width="1"/>
<text x="343.96" y="311.22" text-anchor="end" font-size="11.8" fill="#111" stroke="#111" stroke-width="0.18" transform="rotate(-45 343.96 311.22)">0</text>
<line x1="351.75" y1="299.10" x2="351.75" y2="303.70" stroke="#4a4a4a" stroke-width="1"/>
<text x="357.36" y="311.22" text-anchor="end" font-size="11.8" fill="#111" stroke="#111" stroke-width="0.18" transform="rotate(-45 357.36 311.22)">3</text>
<line x1="365.15" y1="299.10" x2="365.15" y2="303.70" stroke="#4a4a4a" stroke-width="1"/>
<text x="370.76" y="311.22" text-anchor="end" font-size="11.8" fill="#111" stroke="#111" stroke-width="0.18" transform="rotate(-45 370.76 311.22)">6</text>
<line x1="378.55" y1="299.10" x2="378.55" y2="303.70" stroke="#4a4a4a" stroke-width="1"/>
<text x="384.16" y="311.22" text-anchor="end" font-size="11.8" fill="#111" stroke="#111" stroke-width="0.18" transform="rotate(-45 384.16 311.22)">9</text>
<line x1="391.95" y1="299.10" x2="391.95" y2="303.70" stroke="#4a4a4a" stroke-width="1"/>
<text x="399.16" y="311.22" text-anchor="end" font-size="11.8" fill="#111" stroke="#111" stroke-width="0.18" transform="rotate(-45 399.16 311.22)">12</text>
<line x1="405.36" y1="299.10" x2="405.36" y2="303.70" stroke="#4a4a4a" stroke-width="1"/>
<text x="412.56" y="311.22" text-anchor="end" font-size="11.8" fill="#111" stroke="#111" stroke-width="0.18" transform="rotate(-45 412.56 311.22)">15</text>
<line x1="418.76" y1="299.10" x2="418.76" y2="303.70" stroke="#4a4a4a" stroke-width="1"/>
<text x="425.96" y="311.22" text-anchor="end" font-size="11.8" fill="#111" stroke="#111" stroke-width="0.18" transform="rotate(-45 425.96 311.22)">18</text>
<text x="0" y="0" font-size="15.45" font-weight="bold" fill="#1a1a1a" text-anchor="middle" transform="translate(15.5 170.4) rotate(-90)">Aggregated normalized P-site counts</text>
<text x="0" y="0" font-size="15.3" font-weight="bold" fill="#1a1a1a" text-anchor="middle" transform="translate(33.1 165.9) rotate(-90)">(x1,000)</text>
<text x="-0.6" y="11.5" font-size="20.5" font-weight="bold" fill="#000">a</text>
<text x="79.0" y="28.0" font-size="14.3" font-weight="bold" fill="#2a7bc4">rPS index =</text>
<text x="186.9" y="18.6" font-size="14.2" font-weight="bold" fill="#2a7bc4">P-site counts (TIS)</text>
<line x1="162.8" y1="22.3" x2="330" y2="22.3" stroke="#333" stroke-width="1.3"/>
<text x="157.0" y="36.8" font-size="14.1" font-weight="bold" fill="#2a7bc4">P-site counts (E) / Codons (E)</text>
<ellipse cx="147.3" cy="371.4" rx="27.7" ry="14.6" fill="#aaaafa"/>
<ellipse cx="314.3" cy="371.5" rx="27.8" ry="14.7" fill="#aaaafa"/>
<line x1="54.9" y1="371.5" x2="143" y2="371.5" stroke="#6d6d6d" stroke-width="1.2"/>
<line x1="334" y1="371.2" x2="421.2" y2="371.2" stroke="#6d6d6d" stroke-width="1.2"/>
<ellipse cx="147.7" cy="346.1" rx="41.9" ry="22" fill="rgba(245,145,25,0.5)"/>
<ellipse cx="313.8" cy="344.5" rx="42.1" ry="22" fill="rgba(245,145,25,0.5)"/>
<rect x="143" y="363.4" width="191" height="15.8" fill="rgba(242,243,242,0.55)" stroke="#6f6f6f" stroke-width="1.2"/>
<text x="221.6" y="377.1" font-size="13.2" font-weight="bold" fill="#231f20" letter-spacing="1.7">CDS</text>
<rect x="129.20" y="325.40" width="12.70" height="35.60" rx="6.35" ry="6.35" fill="none" stroke="#222" stroke-width="0.95"/>
<rect x="141.90" y="325.40" width="12.70" height="35.60" rx="6.35" ry="6.35" fill="none" stroke="#222" stroke-width="0.95"/>
<rect x="154.60" y="325.40" width="13.20" height="35.60" rx="6.60" ry="6.60" fill="none" stroke="#222" stroke-width="0.95"/>
<text x="0" y="0" text-anchor="middle" font-size="12.6" fill="#231f20" transform="translate(135.55 355.80) scale(0.92 1)">E</text>
<text x="0" y="0" text-anchor="middle" font-size="12.6" fill="#231f20" transform="translate(148.25 355.80) scale(0.92 1)">P</text>
<text x="0" y="0" text-anchor="middle" font-size="12.6" fill="#231f20" transform="translate(161.20 355.80) scale(0.92 1)">A</text>
<rect x="295.30" y="324.20" width="13.10" height="35.90" rx="6.55" ry="6.55" fill="none" stroke="#222" stroke-width="0.95"/>
<rect x="308.40" y="324.20" width="12.70" height="35.90" rx="6.35" ry="6.35" fill="none" stroke="#222" stroke-width="0.95"/>
<rect x="321.10" y="324.20" width="12.70" height="35.90" rx="6.35" ry="6.35" fill="none" stroke="#222" stroke-width="0.95"/>
<text x="0" y="0" text-anchor="middle" font-size="12.6" fill="#231f20" transform="translate(301.85 354.50) scale(0.92 1)">E</text>
<text x="0" y="0" text-anchor="middle" font-size="12.6" fill="#231f20" transform="translate(314.75 354.50) scale(0.92 1)">P</text>
<text x="0" y="0" text-anchor="middle" font-size="12.6" fill="#231f20" transform="translate(327.45 354.50) scale(0.92 1)">A</text>
<text x="327.5" y="331.60" text-anchor="middle" font-size="5" fill="#231f20">UAA</text>
<text x="327.5" y="337.40" text-anchor="middle" font-size="5" fill="#231f20">UAG</text>
<text x="327.5" y="343.20" text-anchor="middle" font-size="5" fill="#231f20">UGA</text>
<text x="60.9" y="368.8" font-size="13.2" font-weight="bold" fill="#231f20" letter-spacing="1.6">5’ UTR</text>
<text x="367.3" y="367.7" font-size="13.2" font-weight="bold" fill="#231f20" letter-spacing="1.45">3’ UTR</text>
<text x="134.8" y="398.6" font-size="13" font-weight="bold" fill="#231f20">TIS</text>
<text x="313.9" y="398.8" font-size="13.2" font-weight="bold" fill="#231f20">Stop</text>
<line x1="151.8" y1="404.8" x2="331.1" y2="404.8" stroke="#3a3535" stroke-width="1.3"/>
<text x="64.7" y="419" font-size="13.5" font-weight="bold" fill="#231f20" letter-spacing="1.0">Initiation (I)</text>
<line x1="152.5" y1="414.6" x2="161" y2="414.6" stroke="#231f20" stroke-width="1.3"/>
<path d="M158 411.6 L163 414.6 L158 417.6 Z" fill="#231f20"/>
<text x="187.6" y="418.6" font-size="13.5" font-weight="bold" fill="#231f20" letter-spacing="0.95">Elongation (E)</text>
<text x="442.9" y="15.4" font-size="20.5" font-weight="bold" fill="#000">b</text>
<text x="480.5" y="25.5" font-size="13.3" fill="#111"><tspan font-style="italic">hot3-2/</tspan>WT</text>
<rect x="479.6" y="30.3" width="65.89999999999998" height="164.01" fill="none" stroke="#222" stroke-width="1.2"/>
<line x1="473.6" y1="30.30" x2="479.6" y2="30.30" stroke="#222" stroke-width="1.1"/>
<text x="472.4" y="33.30" text-anchor="end" font-size="13" fill="#1a1a1a">8</text>
<line x1="473.6" y1="53.73" x2="479.6" y2="53.73" stroke="#222" stroke-width="1.1"/>
<text x="472.4" y="56.73" text-anchor="end" font-size="13" fill="#1a1a1a">6</text>
<line x1="473.6" y1="77.16" x2="479.6" y2="77.16" stroke="#222" stroke-width="1.1"/>
<text x="472.4" y="80.16" text-anchor="end" font-size="13" fill="#1a1a1a">4</text>
<line x1="473.6" y1="100.59" x2="479.6" y2="100.59" stroke="#222" stroke-width="1.1"/>
<text x="472.4" y="103.59" text-anchor="end" font-size="13" fill="#1a1a1a">2</text>
<line x1="473.6" y1="124.02" x2="479.6" y2="124.02" stroke="#222" stroke-width="1.1"/>
<text x="472.4" y="127.02" text-anchor="end" font-size="13" fill="#1a1a1a">0</text>
<line x1="473.6" y1="147.45" x2="479.6" y2="147.45" stroke="#222" stroke-width="1.1"/>
<text x="472.4" y="150.45" text-anchor="end" font-size="13" fill="#1a1a1a">-2</text>
<line x1="473.6" y1="170.88" x2="479.6" y2="170.88" stroke="#222" stroke-width="1.1"/>
<text x="472.4" y="173.88" text-anchor="end" font-size="13" fill="#1a1a1a">-4</text>
<line x1="473.6" y1="194.31" x2="479.6" y2="194.31" stroke="#222" stroke-width="1.1"/>
<text x="472.4" y="197.31" text-anchor="end" font-size="13" fill="#1a1a1a">-6</text>
<text x="0" y="0" font-size="13.5" font-weight="bold" fill="#111" text-anchor="middle" transform="translate(456.8 110.6) rotate(-90)">Log2 fold change of rPS</text>
<line x1="479.6" y1="124.02" x2="545.5" y2="124.02" stroke="#111" stroke-width="1.4" stroke-dasharray="1.3 1.9"/>
<path d="M498.20,66.97 L497.70,71.30 L497.15,75.52 L495.55,90.87 L492.90,106.33 L491.35,112.66 L489.90,118.16 L489.20,121.68 L489.05,124.37 L491.05,127.89 L493.50,130.70 L495.90,133.63 L496.80,136.44 L497.30,143.47 L497.60,163.38 L498.00,164.09 L499.00,164.09 L499.40,163.38 L499.70,143.47 L500.20,136.44 L501.10,133.63 L503.50,130.70 L505.95,127.89 L507.95,124.37 L507.80,121.68 L507.10,118.16 L505.65,112.66 L504.10,106.33 L501.45,90.87 L499.85,75.52 L499.30,71.30 L498.80,66.97 Z" fill="#ff7b0f"/>
<rect x="497.7" y="165.16" width="1.6" height="0.9" fill="#ff7b0f"/>
<rect x="497.7" y="166.92" width="1.6" height="0.9" fill="#ff7b0f"/>
<rect x="497.7" y="168.67" width="1.6" height="0.9" fill="#ff7b0f"/>
<rect x="497.7" y="170.43" width="1.6" height="0.9" fill="#ff7b0f"/>
<path d="M526.40,65.68 L526.20,66.27 L525.40,75.52 L523.75,90.87 L520.90,106.33 L519.40,113.95 L517.85,118.63 L517.20,122.85 L517.15,124.02 L520.00,129.29 L523.30,134.68 L525.05,140.07 L525.70,150.73 L525.90,159.75 L526.20,160.34 L527.20,160.34 L527.50,159.75 L527.70,150.73 L528.35,140.07 L530.10,134.68 L533.40,129.29 L536.25,124.02 L536.20,122.85 L535.55,118.63 L534.00,113.95 L532.50,106.33 L529.65,90.87 L528.00,75.52 L527.20,66.27 L527.00,65.68 Z" fill="#3aa7d9"/>
<rect x="526.0" y="46.90" width="1.4" height="1.2" fill="#3aa7d9"/>
<rect x="526.0" y="57.30" width="1.4" height="1.2" fill="#3aa7d9"/>
<rect x="526.0" y="61.00" width="1.4" height="1.2" fill="#3aa7d9"/>
<rect x="526.05" y="161.70" width="1.3" height="2.30" fill="#3aa7d9"/>
<rect x="526.05" y="166.60" width="1.3" height="1.80" fill="#3aa7d9"/>
<rect x="526.05" y="172.00" width="1.3" height="2.70" fill="#3aa7d9"/>
<rect x="526.05" y="176.40" width="1.3" height="2.70" fill="#3aa7d9"/>
<rect x="526.05" y="182.70" width="1.3" height="4.40" fill="#3aa7d9"/>
<rect x="489.0" y="117.60" width="19" height="3" fill="#1e5fe6"/>
<rect x="517.2" y="119.01" width="19" height="3" fill="#1e5fe6"/>
<text x="484.0" y="61.8" font-size="7.75" fill="#222">p&lt;2.22e-16</text>
<text x="503.6" y="41.7" font-size="7.75" fill="#222">p&lt;2.22e-16</text>
<text x="492.6" y="208.8" font-size="14.8" fill="#f05a28">IF</text>
<text x="521.9" y="208.8" font-size="14.8" fill="#2a7bc4">S</text>
<text x="550.5" y="16.0" font-size="20" font-weight="bold" fill="#000">c</text>
<text x="562.9" y="49.9" font-size="14.2" font-weight="bold" fill="#f26522">IF_Stalled</text>
<circle cx="595.5" cy="96.0" r="38.05" fill="none" stroke="#f26522" stroke-width="2.75"/>
<ellipse cx="595.2" cy="126.15" rx="37.7" ry="38.05" fill="none" stroke="#1f77be" stroke-width="2.75"/>
<text x="596.0" y="80.8" text-anchor="middle" font-size="12.8" fill="#333">1428</text>
<text x="596.0" y="152.7" text-anchor="middle" font-size="12.8" fill="#333">1755</text>
<text x="595.9" y="116.6" text-anchor="middle" font-size="16" font-weight="bold" fill="#1010f0">1584</text>
<line x1="617.5" y1="111.6" x2="639.3" y2="111.6" stroke="#1414c8" stroke-width="1.2"/>
<text x="641.2" y="107.9" font-size="14" font-weight="bold" fill="#1a1af0">IF&amp;S_</text>
<text x="637.8" y="125.2" font-size="14.2" font-weight="bold" fill="#1a1af0">Stalled</text>
<text x="564.0" y="179.0" font-size="14.2" font-weight="bold" fill="#2a7bc4">S_Stalled</text>
<text x="442.9" y="221.0" font-size="20.5" font-weight="bold" fill="#000">d</text>
<text x="563.6" y="221.3" font-size="14" font-weight="bold" fill="#1010ee">IF&amp;S_Stalled</text>
<rect x="585.4" y="225.3" width="46.00" height="31.70" fill="#fff"/>
<line x1="588.50" y1="225.3" x2="588.50" y2="257.0" stroke="#f3f3f3" stroke-width="0.6"/>
<line x1="598.90" y1="225.3" x2="598.90" y2="257.0" stroke="#f3f3f3" stroke-width="0.6"/>
<line x1="609.30" y1="225.3" x2="609.30" y2="257.0" stroke="#f3f3f3" stroke-width="0.6"/>
<line x1="619.70" y1="225.3" x2="619.70" y2="257.0" stroke="#f3f3f3" stroke-width="0.6"/>
<line x1="630.10" y1="225.3" x2="630.10" y2="257.0" stroke="#f3f3f3" stroke-width="0.6"/>
<line x1="593.70" y1="225.3" x2="593.70" y2="257.0" stroke="#ebebeb" stroke-width="0.9"/>
<line x1="604.10" y1="225.3" x2="604.10" y2="257.0" stroke="#ebebeb" stroke-width="0.9"/>
<line x1="614.50" y1="225.3" x2="614.50" y2="257.0" stroke="#ebebeb" stroke-width="0.9"/>
<line x1="624.90" y1="225.3" x2="624.90" y2="257.0" stroke="#ebebeb" stroke-width="0.9"/>
<line x1="585.4" y1="231.24" x2="631.4" y2="231.24" stroke="#ebebeb" stroke-width="0.9"/>
<line x1="585.4" y1="241.15" x2="631.4" y2="241.15" stroke="#ebebeb" stroke-width="0.9"/>
<line x1="585.4" y1="251.06" x2="631.4" y2="251.06" stroke="#ebebeb" stroke-width="0.9"/>
<rect x="585.4" y="225.3" width="46.00" height="31.70" fill="none" stroke="#8a8a8a" stroke-width="1.1"/>
<rect x="631.4" y="225.3" width="8.20" height="31.70" fill="#d9d9d9" stroke="#8a8a8a" stroke-width="1.1"/>
<text x="0" y="0" font-size="10.5" fill="#1a1a1a" text-anchor="middle" transform="translate(632.90 245.45) rotate(90)">BP</text>
<line x1="583.3" y1="231.24" x2="585.4" y2="231.24" stroke="#555" stroke-width="0.9"/>
<text x="583.9" y="234.74" text-anchor="end" font-size="13.2" fill="#1a1a1a">Cytoplasmic translation</text>
<circle cx="625.90" cy="231.24" r="1.50" fill="#2020f0"/>
<line x1="583.3" y1="241.15" x2="585.4" y2="241.15" stroke="#555" stroke-width="0.9"/>
<text x="583.9" y="244.65" text-anchor="end" font-size="13.2" fill="#1a1a1a">Photosynthesis</text>
<circle cx="603.80" cy="241.15" r="1.75" fill="#1a1af2"/>
<line x1="583.3" y1="251.06" x2="585.4" y2="251.06" stroke="#555" stroke-width="0.9"/>
<text x="583.9" y="254.56" text-anchor="end" font-size="13.2" fill="#1a1a1a">Response to cold</text>
<circle cx="597.40" cy="251.06" r="2.05" fill="#6a10e8"/>
<rect x="585.4" y="259.7" width="46.00" height="101.20" fill="#fff"/>
<line x1="588.50" y1="259.7" x2="588.50" y2="360.9" stroke="#f3f3f3" stroke-width="0.6"/>
<line x1="598.90" y1="259.7" x2="598.90" y2="360.9" stroke="#f3f3f3" stroke-width="0.6"/>
<line x1="609.30" y1="259.7" x2="609.30" y2="360.9" stroke="#f3f3f3" stroke-width="0.6"/>
<line x1="619.70" y1="259.7" x2="619.70" y2="360.9" stroke="#f3f3f3" stroke-width="0.6"/>
<line x1="630.10" y1="259.7" x2="630.10" y2="360.9" stroke="#f3f3f3" stroke-width="0.6"/>
<line x1="593.70" y1="259.7" x2="593.70" y2="360.9" stroke="#ebebeb" stroke-width="0.9"/>
<line x1="604.10" y1="259.7" x2="604.10" y2="360.9" stroke="#ebebeb" stroke-width="0.9"/>
<line x1="614.50" y1="259.7" x2="614.50" y2="360.9" stroke="#ebebeb" stroke-width="0.9"/>
<line x1="624.90" y1="259.7" x2="624.90" y2="360.9" stroke="#ebebeb" stroke-width="0.9"/>
<line x1="585.4" y1="265.65" x2="631.4" y2="265.65" stroke="#ebebeb" stroke-width="0.9"/>
<line x1="585.4" y1="275.57" x2="631.4" y2="275.57" stroke="#ebebeb" stroke-width="0.9"/>
<line x1="585.4" y1="285.50" x2="631.4" y2="285.50" stroke="#ebebeb" stroke-width="0.9"/>
<line x1="585.4" y1="295.42" x2="631.4" y2="295.42" stroke="#ebebeb" stroke-width="0.9"/>
<line x1="585.4" y1="305.34" x2="631.4" y2="305.34" stroke="#ebebeb" stroke-width="0.9"/>
<line x1="585.4" y1="315.26" x2="631.4" y2="315.26" stroke="#ebebeb" stroke-width="0.9"/>
<line x1="585.4" y1="325.18" x2="631.4" y2="325.18" stroke="#ebebeb" stroke-width="0.9"/>
<line x1="585.4" y1="335.10" x2="631.4" y2="335.10" stroke="#ebebeb" stroke-width="0.9"/>
<line x1="585.4" y1="345.03" x2="631.4" y2="345.03" stroke="#ebebeb" stroke-width="0.9"/>
<line x1="585.4" y1="354.95" x2="631.4" y2="354.95" stroke="#ebebeb" stroke-width="0.9"/>
<rect x="585.4" y="259.7" width="46.00" height="101.20" fill="none" stroke="#8a8a8a" stroke-width="1.1"/>
<rect x="631.4" y="259.7" width="8.20" height="101.20" fill="#d9d9d9" stroke="#8a8a8a" stroke-width="1.1"/>
<text x="0" y="0" font-size="10.5" fill="#1a1a1a" text-anchor="middle" transform="translate(632.90 314.60) rotate(90)">CC</text>
<line x1="583.3" y1="265.65" x2="585.4" y2="265.65" stroke="#555" stroke-width="0.9"/>
<text x="583.9" y="269.15" text-anchor="end" font-size="13.2" fill="#1a1a1a">Cytosolic ribosome</text>
<circle cx="629.50" cy="265.65" r="1.75" fill="#a010c8"/>
<line x1="583.3" y1="275.57" x2="585.4" y2="275.57" stroke="#555" stroke-width="0.9"/>
<text x="583.9" y="279.07" text-anchor="end" font-size="13.2" fill="#1a1a1a">Thylakoid</text>
<circle cx="620.40" cy="275.57" r="1.75" fill="#9a10d0"/>
<line x1="583.3" y1="285.50" x2="585.4" y2="285.50" stroke="#555" stroke-width="0.9"/>
<text x="583.9" y="289.00" text-anchor="end" font-size="13.2" fill="#1a1a1a">Plant−type vacuole</text>
<circle cx="608.90" cy="285.50" r="2.10" fill="#a810c0"/>
<line x1="583.3" y1="295.42" x2="585.4" y2="295.42" stroke="#555" stroke-width="0.9"/>
<text x="583.9" y="298.92" text-anchor="end" font-size="13.2" fill="#1a1a1a">Chloroplast envelope</text>
<circle cx="608.40" cy="295.42" r="2.00" fill="#a610c4"/>
<line x1="583.3" y1="305.34" x2="585.4" y2="305.34" stroke="#555" stroke-width="0.9"/>
<text x="583.9" y="308.84" text-anchor="end" font-size="13.2" fill="#1a1a1a">Chloroplast stroma</text>
<circle cx="605.00" cy="305.34" r="2.00" fill="#a210c8"/>
<line x1="583.3" y1="315.26" x2="585.4" y2="315.26" stroke="#555" stroke-width="0.9"/>
<text x="583.9" y="318.76" text-anchor="end" font-size="13.2" fill="#1a1a1a">Plasmodesma</text>
<circle cx="601.30" cy="315.26" r="2.00" fill="#a010ca"/>
<line x1="583.3" y1="325.18" x2="585.4" y2="325.18" stroke="#555" stroke-width="0.9"/>
<text x="583.9" y="328.68" text-anchor="end" font-size="13.2" fill="#1a1a1a">Plastid</text>
<circle cx="601.30" cy="325.18" r="2.00" fill="#a010ca"/>
<line x1="583.3" y1="335.10" x2="585.4" y2="335.10" stroke="#555" stroke-width="0.9"/>
<text x="583.9" y="338.60" text-anchor="end" font-size="13.2" fill="#1a1a1a">Cytosol</text>
<circle cx="600.80" cy="335.10" r="2.80" fill="#ff0a0a"/>
<line x1="583.3" y1="345.03" x2="585.4" y2="345.03" stroke="#555" stroke-width="0.9"/>
<text x="583.9" y="348.53" text-anchor="end" font-size="13.2" fill="#1a1a1a">Cytoplasm</text>
<circle cx="588.90" cy="345.03" r="2.80" fill="#9a10d8"/>
<line x1="583.3" y1="354.95" x2="585.4" y2="354.95" stroke="#555" stroke-width="0.9"/>
<text x="583.9" y="358.45" text-anchor="end" font-size="13.2" fill="#1a1a1a">Chloroplast</text>
<circle cx="588.50" cy="354.95" r="2.70" fill="#9a10d8"/>
<rect x="585.4" y="364.4" width="46.00" height="30.80" fill="#fff"/>
<line x1="588.50" y1="364.4" x2="588.50" y2="395.2" stroke="#f3f3f3" stroke-width="0.6"/>
<line x1="598.90" y1="364.4" x2="598.90" y2="395.2" stroke="#f3f3f3" stroke-width="0.6"/>
<line x1="609.30" y1="364.4" x2="609.30" y2="395.2" stroke="#f3f3f3" stroke-width="0.6"/>
<line x1="619.70" y1="364.4" x2="619.70" y2="395.2" stroke="#f3f3f3" stroke-width="0.6"/>
<line x1="630.10" y1="364.4" x2="630.10" y2="395.2" stroke="#f3f3f3" stroke-width="0.6"/>
<line x1="593.70" y1="364.4" x2="593.70" y2="395.2" stroke="#ebebeb" stroke-width="0.9"/>
<line x1="604.10" y1="364.4" x2="604.10" y2="395.2" stroke="#ebebeb" stroke-width="0.9"/>
<line x1="614.50" y1="364.4" x2="614.50" y2="395.2" stroke="#ebebeb" stroke-width="0.9"/>
<line x1="624.90" y1="364.4" x2="624.90" y2="395.2" stroke="#ebebeb" stroke-width="0.9"/>
<line x1="585.4" y1="370.17" x2="631.4" y2="370.17" stroke="#ebebeb" stroke-width="0.9"/>
<line x1="585.4" y1="379.80" x2="631.4" y2="379.80" stroke="#ebebeb" stroke-width="0.9"/>
<line x1="585.4" y1="389.42" x2="631.4" y2="389.42" stroke="#ebebeb" stroke-width="0.9"/>
<rect x="585.4" y="364.4" width="46.00" height="30.80" fill="none" stroke="#8a8a8a" stroke-width="1.1"/>
<rect x="631.4" y="364.4" width="8.20" height="30.80" fill="#d9d9d9" stroke="#8a8a8a" stroke-width="1.1"/>
<text x="0" y="0" font-size="10.5" fill="#1a1a1a" text-anchor="middle" transform="translate(632.90 384.10) rotate(90)">MF</text>
<line x1="583.3" y1="370.17" x2="585.4" y2="370.17" stroke="#555" stroke-width="0.9"/>
<text x="583.9" y="373.67" text-anchor="end" font-size="13.2" fill="#1a1a1a">Ribosome</text>
<circle cx="610.80" cy="370.17" r="1.90" fill="#a810d0"/>
<line x1="583.3" y1="379.80" x2="585.4" y2="379.80" stroke="#555" stroke-width="0.9"/>
<text x="583.9" y="383.30" text-anchor="end" font-size="13.2" fill="#1a1a1a">mRNA binding</text>
<circle cx="604.10" cy="379.80" r="2.40" fill="#d010a0"/>
<line x1="583.3" y1="389.42" x2="585.4" y2="389.42" stroke="#555" stroke-width="0.9"/>
<text x="583.9" y="392.92" text-anchor="end" font-size="13.2" fill="#1a1a1a">Protein binding</text>
<circle cx="587.30" cy="389.42" r="2.70" fill="#7010f0"/>
<line x1="593.70" y1="395.2" x2="593.70" y2="397.8" stroke="#333" stroke-width="0.9"/>
<text x="593.40" y="409.7" text-anchor="middle" font-size="12.8" fill="#1a1a1a">2</text>
<line x1="604.10" y1="395.2" x2="604.10" y2="397.8" stroke="#333" stroke-width="0.9"/>
<text x="603.80" y="409.7" text-anchor="middle" font-size="12.8" fill="#1a1a1a">3</text>
<line x1="614.50" y1="395.2" x2="614.50" y2="397.8" stroke="#333" stroke-width="0.9"/>
<text x="614.20" y="409.7" text-anchor="middle" font-size="12.8" fill="#1a1a1a">4</text>
<line x1="624.90" y1="395.2" x2="624.90" y2="397.8" stroke="#333" stroke-width="0.9"/>
<text x="624.60" y="409.7" text-anchor="middle" font-size="12.8" fill="#1a1a1a">5</text>
<text x="557.6" y="420.4" font-size="14" font-weight="bold" fill="#111">Fold enrichment</text>
<text x="641.9" y="258.6" font-size="13.3" fill="#1a1a1a">−Log10</text>
<text x="641.0" y="274.8" font-size="13.5" fill="#1a1a1a">(FDR)</text>
<defs><linearGradient id="fdr" x1="0" y1="0" x2="0" y2="1"><stop offset="0" stop-color="#ff0028"/><stop offset="0.3" stop-color="#e8005a"/><stop offset="0.55" stop-color="#b400b4"/><stop offset="0.8" stop-color="#7800dc"/><stop offset="1" stop-color="#3a10ff"/></linearGradient></defs>
<rect x="643.5" y="277.1" width="8.5" height="41.0" fill="url(#fdr)"/>
<line x1="643.5" y1="282.20" x2="645.2" y2="282.20" stroke="#fff" stroke-width="0.6"/>
<line x1="650.3" y1="282.20" x2="652" y2="282.20" stroke="#fff" stroke-width="0.6"/>
<text x="654.3" y="286.70" font-size="13.3" fill="#1a1a1a">75</text>
<line x1="643.5" y1="293.50" x2="645.2" y2="293.50" stroke="#fff" stroke-width="0.6"/>
<line x1="650.3" y1="293.50" x2="652" y2="293.50" stroke="#fff" stroke-width="0.6"/>
<text x="654.3" y="298.00" font-size="13.3" fill="#1a1a1a">50</text>
<line x1="643.5" y1="304.80" x2="645.2" y2="304.80" stroke="#fff" stroke-width="0.6"/>
<line x1="650.3" y1="304.80" x2="652" y2="304.80" stroke="#fff" stroke-width="0.6"/>
<text x="654.3" y="309.30" font-size="13.3" fill="#1a1a1a">25</text>
<text x="643.4" y="331.9" font-size="13.5" fill="#1a1a1a">Count</text>
<circle cx="647.9" cy="340.20" r="1.6" fill="#111"/>
<text x="653.0" y="343.70" font-size="13.2" fill="#1a1a1a">100</text>
<circle cx="647.9" cy="350.25" r="1.9" fill="#111"/>
<text x="653.0" y="353.75" font-size="13.2" fill="#1a1a1a">200</text>
<circle cx="647.9" cy="360.30" r="2.2" fill="#111"/>
<text x="653.0" y="363.80" font-size="13.2" fill="#1a1a1a">300</text>
<circle cx="647.9" cy="370.35" r="2.5" fill="#111"/>
<text x="653.0" y="373.85" font-size="13.2" fill="#1a1a1a">400</text>
</svg>
</body></html>
